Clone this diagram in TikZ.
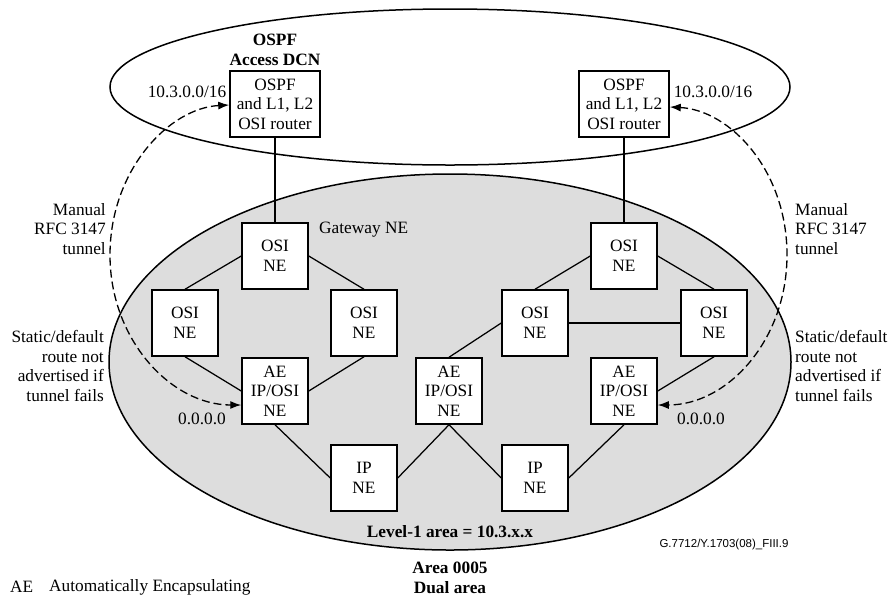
\documentclass[tikz,border=0pt]{standalone}
\usepackage{fontspec}
\setmainfont{Liberation Serif}
\newfontfamily\arialfont{Liberation Sans}
\usetikzlibrary{arrows.meta,calc}
\definecolor{areagray}{RGB}{221,221,221}
\begin{document}
\begin{tikzpicture}[x=1pt,y=-1pt,
  every node/.style={font=\fontsize{17.3}{19.5}\selectfont, inner sep=0pt},
  nebox/.style={draw, fill=white, line width=1.5pt, minimum width=66pt, minimum height=66pt, align=center},
  rtbox/.style={nebox, minimum width=90pt},
  link/.style={line width=1.25pt},
  tunnel/.style={dash pattern=on 8pt off 4pt, line width=1.3pt, {Latex[length=11pt,width=8pt]}-{Latex[length=11pt,width=8pt]}},
  boldtxt/.style={font=\fontsize{17.3}{19.5}\selectfont\bfseries}
]
\useasboundingbox (0,0) rectangle (890,598);
\fill[white] (0,0) rectangle (890,598);
% areas
\draw[line width=1.5pt, fill=areagray] (450,362) ellipse [x radius=341, y radius=188];
\draw[line width=1.5pt] (450,87) ellipse [x radius=340, y radius=78];
% boxes
\node[rtbox] (rtL) at (275,104) {OSPF\\and L1, L2\\OSI router};
\node[rtbox] (rtR) at (624,104) {OSPF\\and L1, L2\\OSI router};
\node[nebox] (gwL) at (275,256) {OSI\\NE};
\node[nebox] (gwR) at (624,256) {OSI\\NE};
\node[nebox] (osiL1) at (185,323) {OSI\\NE};
\node[nebox] (osiL2) at (364,323) {OSI\\NE};
\node[nebox] (osiR1) at (535,323) {OSI\\NE};
\node[nebox] (osiR2) at (714,323) {OSI\\NE};
\node[nebox] (aeL) at (275,391) {AE\\IP/OSI\\NE};
\node[nebox] (aeM) at (449,391) {AE\\IP/OSI\\NE};
\node[nebox] (aeR) at (624,391) {AE\\IP/OSI\\NE};
\node[nebox] (ipL) at (364,478) {IP\\NE};
\node[nebox] (ipR) at (535,478) {IP\\NE};
% links
\draw[link] (rtL.south) -- (gwL.north);
\draw[line width=2.2pt] (rtR.south) -- (gwR.north);
\draw[link] (gwL.west) -- (osiL1.north);
\draw[link] (gwL.east) -- (osiL2.north);
\draw[link] (osiL1.south) -- (aeL.west);
\draw[link] (osiL2.south) -- (aeL.east);
\draw[link] (aeL.south) -- (ipL.west);
\draw[link] (ipL.east) -- (aeM.south);
\draw[link] (aeM.south) -- (ipR.west);
\draw[link] (aeM.north) -- (osiR1.west);
\draw[link] (gwR.west) -- (osiR1.north);
\draw[link] (gwR.east) -- (osiR2.north);
\draw[link] (osiR1.east) -- (osiR2.west);
\draw[link] (osiR2.south) -- (aeR.east);
\draw[link] (aeR.south) -- (ipR.east);
% tunnels
\coordinate (tl) at (110,255);
\coordinate (tr) at (787,255);
\draw[tunnel] ([yshift=-1pt]rtL.west) .. controls +(-60,3) and +(0,-85) .. (tl) .. controls +(0,85) and +(-70,0) .. ([yshift=-14pt]aeL.west);
\draw[tunnel] ([yshift=-3pt]rtR.east) .. controls +(60,3) and +(0,-85) .. (tr) .. controls +(0,85) and +(70,0) .. ([yshift=-14pt]aeR.east);
% labels
\node[anchor=east, align=right] (manL) at (106,229) {Manual\\RFC 3147\\tunnel};
\node[anchor=west, align=left] (manR) at (795,229) {Manual\\RFC 3147\\tunnel};
\node[anchor=east, align=right] (stL) at (104,366) {Static/default\\route not\\advertised if\\tunnel fails};
\node[anchor=west, align=left] (stR) at (795,366) {Static/default\\route not\\advertised if\\tunnel fails};
\node (ipaL) at (187,92) {10.3.0.0/16};
\node (ipaR) at (713,92) {10.3.0.0/16};
\node (zL) at (202,419) {0.0.0.0};
\node (zR) at (701,419) {0.0.0.0};
\node[anchor=west] (gwlbl) at (319,230) {Gateway NE};
\node[boldtxt, align=center] (dcn) at (275,50) {OSPF\\Access DCN};
\node[boldtxt] (lvl) at (450,532) {Level-1 area = 10.3.x.x};
\node[boldtxt, align=center] (area) at (450,578) {Area 0005\\Dual area};
\node[anchor=west] (ae) at (10,587) {AE};
\node[anchor=west] (aedef) at (49,587) {Automatically Encapsulating};
\node[font=\arialfont\fontsize{11.5}{13}\selectfont] (fig) at (724,545) {G.7712/Y.1703(08)\_FIII.9};
\end{tikzpicture}
\end{document}
